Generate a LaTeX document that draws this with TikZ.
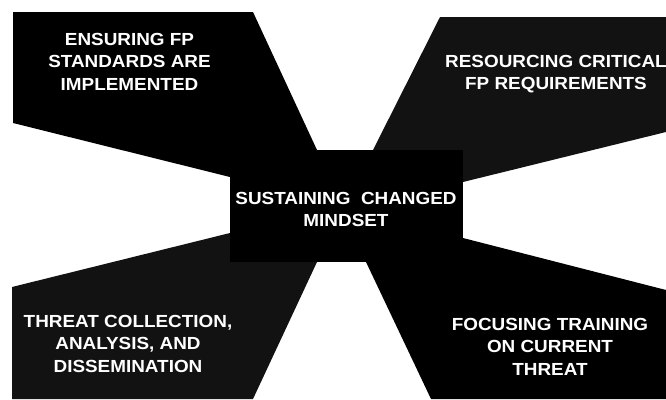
\documentclass[tikz,border=0pt]{standalone}
\usepackage{fontspec}
\newfontfamily\labfont[FakeStretch=1.08]{Liberation Sans}
\tikzset{
  solidpart/.style={fill=black, draw=none},
  stipplepart/.style={fill=black!93, draw=none},
  lbl/.style={text=white, align=center, inner sep=0pt, anchor=north,
    font={\labfont\bfseries\fontsize{17.5pt}{22.5pt}\selectfont}}
}
\begin{document}
\begin{tikzpicture}[x=1pt,y=-1pt]
\useasboundingbox (0,0) rectangle (666,399);
% arms
\fill[solidpart] (13,12) -- (253,12) -- (317,150) -- (300,200) -- (230,177) -- (13,123) -- cycle;
\fill[stipplepart] (440,17) -- (666,17) -- (666,132) -- (463,182) -- (420,200) -- (373,150) -- cycle;
\fill[stipplepart] (12,287) -- (230,233) -- (300,220) -- (317,262) -- (253,399) -- (12,399) -- cycle;
\fill[solidpart] (463,238) -- (666,290) -- (666,399) -- (431,399) -- (366,262) -- (420,230) -- cycle;
% centre
\fill[solidpart] (230,150) rectangle (463,262);
% labels
\node[lbl] (tl) at (129.5,33) {ENSURING FP\\STANDARDS ARE\\IMPLEMENTED};
\node[lbl] (tr) at (556,55) {RESOURCING CRITICAL\\FP REQUIREMENTS};
\node[lbl] (ctr) at (346,192) {SUSTAINING\ \ CHANGED\\MINDSET};
\node[lbl] (bl) at (128,315) {THREAT COLLECTION,\\ANALYSIS, AND\\DISSEMINATION};
\node[lbl] (br) at (550,318) {FOCUSING TRAINING\\ON CURRENT\\THREAT};
\end{tikzpicture}
\end{document}
